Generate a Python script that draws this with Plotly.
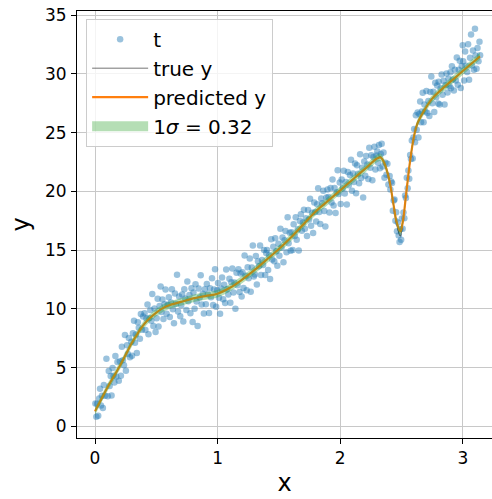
import plotly.graph_objects as go

# ---- observed samples t(x), grouped in x-bins of width 0.1 ----
x_obs = [
    0.003, 0.011, 0.017, 0.026, 0.034, 0.041, 0.049, 0.056, 0.064, 0.072, 0.081, 0.093,
    0.104, 0.112, 0.119, 0.128, 0.135, 0.143, 0.151, 0.158, 0.166, 0.174, 0.183, 0.194,
    0.203, 0.211, 0.219, 0.227, 0.236, 0.244, 0.252, 0.261, 0.268, 0.276, 0.285, 0.296,
    0.302, 0.309, 0.318, 0.326, 0.333, 0.341, 0.349, 0.357, 0.366, 0.374, 0.383, 0.392,
    0.404, 0.411, 0.419, 0.428, 0.436, 0.443, 0.451, 0.459, 0.467, 0.476, 0.485, 0.494,
    0.503, 0.511, 0.518, 0.527, 0.535, 0.542, 0.550, 0.558, 0.567, 0.575, 0.584, 0.593,
    0.602, 0.610, 0.619, 0.627, 0.635, 0.644, 0.652, 0.660, 0.669, 0.677, 0.686, 0.695,
    0.703, 0.711, 0.720, 0.728, 0.736, 0.745, 0.753, 0.761, 0.770, 0.778, 0.787, 0.796,
    0.803, 0.812, 0.820, 0.828, 0.837, 0.845, 0.854, 0.862, 0.870, 0.879, 0.888, 0.896,
    0.904, 0.912, 0.921, 0.930, 0.938, 0.946, 0.954, 0.963, 0.971, 0.979, 0.988, 0.996,
    1.003, 1.011, 1.020, 1.028, 1.036, 1.045, 1.053, 1.061, 1.070, 1.078, 1.087, 1.096,
    1.104, 1.112, 1.120, 1.129, 1.137, 1.145, 1.154, 1.162, 1.170, 1.179, 1.187, 1.196,
    1.203, 1.211, 1.220, 1.228, 1.237, 1.245, 1.253, 1.262, 1.270, 1.279, 1.287, 1.295,
    1.304, 1.312, 1.320, 1.329, 1.337, 1.346, 1.354, 1.362, 1.371, 1.379, 1.388, 1.396,
    1.403, 1.412, 1.420, 1.428, 1.437, 1.445, 1.454, 1.462, 1.470, 1.479, 1.487, 1.496,
    1.504, 1.512, 1.521, 1.529, 1.537, 1.546, 1.554, 1.562, 1.571, 1.579, 1.588, 1.596,
    1.603, 1.612, 1.620, 1.629, 1.637, 1.645, 1.654, 1.662, 1.671, 1.679, 1.687, 1.696,
    1.704, 1.712, 1.720, 1.729, 1.738, 1.746, 1.754, 1.762, 1.771, 1.779, 1.788, 1.796,
    1.804, 1.812, 1.820, 1.829, 1.837, 1.845, 1.854, 1.862, 1.870, 1.879, 1.887, 1.896,
    1.904, 1.912, 1.921, 1.929, 1.937, 1.946, 1.954, 1.962, 1.971, 1.979, 1.987, 1.996,
    2.004, 2.012, 2.020, 2.029, 2.037, 2.046, 2.054, 2.062, 2.070, 2.079, 2.088, 2.096,
    2.104, 2.112, 2.121, 2.129, 2.137, 2.146, 2.154, 2.162, 2.171, 2.179, 2.187, 2.196,
    2.204, 2.212, 2.221, 2.229, 2.237, 2.246, 2.254, 2.262, 2.271, 2.279, 2.287, 2.296,
    2.302, 2.309, 2.316, 2.324, 2.331, 2.338, 2.346, 2.353, 2.361, 2.369, 2.377, 2.385, 2.393,
    2.403, 2.409, 2.416, 2.423, 2.429, 2.436, 2.443, 2.450, 2.456, 2.463, 2.470, 2.477, 2.484, 2.491, 2.497,
    2.503, 2.509, 2.516, 2.523, 2.529, 2.536, 2.543, 2.550, 2.556, 2.563, 2.570, 2.577, 2.584, 2.591, 2.597,
    2.603, 2.610, 2.617, 2.624, 2.631, 2.638, 2.645, 2.652, 2.659, 2.666, 2.673, 2.680, 2.687, 2.694,
    2.703, 2.711, 2.719, 2.727, 2.735, 2.743, 2.751, 2.759, 2.767, 2.775, 2.783, 2.791, 2.799,
    2.803, 2.811, 2.819, 2.827, 2.835, 2.843, 2.851, 2.859, 2.867, 2.875, 2.883, 2.891, 2.899,
    2.903, 2.911, 2.919, 2.927, 2.935, 2.943, 2.951, 2.959, 2.967, 2.975, 2.983, 2.991, 2.999,
    3.003, 3.011, 3.019, 3.027, 3.035, 3.043, 3.051, 3.059, 3.067, 3.075, 3.083, 3.091, 3.099,
    3.104, 3.112, 3.120, 3.128, 3.136, 3.141,
]
t_obs = [
    1.96, 0.82, 1.94, 0.92, 2.38, 3.22, 1.78, 2.62, 1.58, 3.54, 2.62, 5.76,
    2.57, 4.72, 3.44, 4.30, 2.63, 4.97, 4.32, 3.74, 5.99, 4.23, 5.49, 3.89,
    5.56, 4.32, 6.78, 5.64, 5.22, 7.78, 4.74, 6.92, 6.16, 7.52, 5.90, 7.22,
    6.03, 7.94, 8.99, 7.12, 7.83, 6.26, 8.88, 8.41, 7.46, 9.58, 8.23, 9.37,
    9.64, 8.21, 9.19, 10.38, 7.86, 9.23, 9.91, 8.99, 11.27, 8.56, 10.05, 8.04,
    9.22, 10.87, 8.51, 10.26, 11.91, 9.75, 10.80, 9.15, 10.40, 11.65, 9.60, 10.36,
    11.00, 9.32, 10.55, 11.67, 9.97, 8.79, 11.32, 10.45, 12.92, 9.78, 11.06, 9.38,
    10.31, 11.23, 8.94, 11.68, 10.89, 9.91, 12.33, 10.66, 11.20, 9.63, 11.76, 8.90,
    11.40, 10.01, 12.11, 10.63, 8.55, 11.75, 10.97, 12.88, 10.39, 11.30, 9.61, 11.68,
    10.41, 12.12, 11.24, 9.65, 11.77, 10.99, 12.62, 10.34, 11.66, 13.38, 10.20, 11.59,
    12.22, 10.96, 9.60, 11.74, 12.68, 10.83, 12.07, 10.51, 13.35, 11.69, 11.24, 12.58,
    10.53, 12.28, 13.44, 11.40, 12.26, 10.02, 13.08, 12.03, 13.39, 11.45, 13.01, 11.07,
    13.12, 11.79, 14.56, 12.82, 11.60, 13.56, 12.62, 14.30, 11.46, 13.53, 15.40, 12.76,
    12.94, 14.51, 12.08, 14.06, 13.63, 15.41, 12.89, 14.16, 13.74, 15.01, 12.89, 14.76,
    15.03, 13.31, 14.58, 12.55, 15.93, 14.21, 15.29, 14.06, 16.03, 14.91, 13.68, 15.56,
    14.54, 16.82, 15.21, 16.09, 13.97, 15.86, 16.64, 14.82, 17.81, 15.59, 16.48, 14.96,
    16.53, 15.03, 17.22, 16.22, 17.81, 15.90, 16.79, 14.98, 17.48, 18.07, 16.66, 17.36,
    18.44, 16.83, 17.72, 16.22, 18.42, 17.61, 19.39, 17.08, 18.18, 16.47, 19.07, 18.26,
    17.44, 18.91, 20.28, 18.26, 17.23, 19.41, 18.99, 20.06, 18.33, 17.01, 19.48, 20.16,
    19.54, 18.21, 20.29, 19.06, 21.03, 18.81, 20.29, 18.16, 19.94, 21.81, 19.78, 20.76,
    18.94, 21.01, 20.28, 21.76, 19.83, 20.81, 18.89, 21.66, 20.53, 21.41, 22.69, 20.06,
    21.54, 20.81, 22.39, 19.86, 22.23, 21.51, 20.69, 23.16, 21.14, 22.01, 19.48, 22.56,
    21.34, 23.01, 22.29, 21.06, 23.73, 22.01, 23.09, 20.96, 22.94, 23.81, 21.88, 23.06,
    23.41, 22.44, 23.96, 21.98, 23.20, 24.07, 22.13, 23.32, 21.17, 22.45, 21.43, 22.35, 20.60,
    21.32, 20.16, 20.84, 20.72, 18.36, 19.24, 19.32, 17.50, 18.24, 16.62, 17.35, 16.25, 15.70, 16.80, 15.90,
    17.70, 16.82, 18.22, 17.72, 19.65, 19.45, 21.16, 20.27, 21.79, 21.09, 23.10, 22.77, 24.33, 22.80, 24.60,
    25.32, 24.20, 26.48, 25.26, 26.72, 24.60, 26.60, 27.66, 25.90, 26.80, 28.40, 25.90, 27.40, 26.80,
    28.55, 26.68, 27.70, 26.43, 28.46, 29.79, 27.51, 28.49, 26.77, 29.25, 28.03, 29.01, 27.49,
    29.33, 27.41, 28.78, 29.96, 28.24, 29.42, 27.40, 29.07, 30.05, 28.42, 29.60, 28.97, 30.15,
    28.78, 30.65, 29.52, 28.59, 30.37, 29.44, 31.41, 29.08, 30.35, 31.13, 28.80, 30.67, 32.44,
    31.08, 29.45, 31.92, 30.69, 30.17, 32.54, 29.51, 31.38, 33.35, 30.73, 32.00, 30.37, 33.84,
    31.58, 30.45, 32.22, 31.08, 32.75, 31.60,
]

# ---- underlying function and model prediction ----
x_curve = [0.0, 0.05, 0.1, 0.15, 0.2, 0.25, 0.3, 0.35, 0.4, 0.45, 0.5, 0.55, 0.6, 0.7,
           0.8, 0.9, 1.0, 1.1, 1.2, 1.3, 1.4, 1.5, 1.6, 1.7, 1.8, 1.9, 2.0, 2.1, 2.2,
           2.3, 2.33, 2.36, 2.4, 2.43, 2.46, 2.49, 2.51, 2.54, 2.57, 2.6, 2.63, 2.68,
           2.75, 2.85, 2.95, 3.05, 3.14]
y_true = [1.3, 2.3, 3.3, 4.2, 5.1, 6.1, 7.1, 7.95, 8.7, 9.25, 9.7, 10.05, 10.3, 10.6,
          10.9, 11.1, 11.3, 11.8, 12.5, 13.3, 14.2, 15.1, 16.1, 17.2, 18.3, 19.2, 20.1,
          21.0, 21.9, 22.8, 22.95, 22.4, 21.0, 19.1, 17.2, 16.2, 17.3, 20.0, 22.6, 24.6,
          25.8, 26.8, 27.9, 28.9, 29.8, 30.7, 31.5]
y_pred = [1.3, 2.3, 3.3, 4.2, 5.1, 6.1, 7.1, 7.95, 8.7, 9.25, 9.7, 10.05, 10.3, 10.6,
          10.9, 11.1, 11.3, 11.8, 12.5, 13.3, 14.2, 15.1, 16.1, 17.2, 18.3, 19.2, 20.1,
          21.0, 21.9, 22.8, 22.9, 22.4, 21.0, 19.2, 17.4, 16.6, 17.4, 20.0, 22.6, 24.6,
          25.8, 26.8, 27.9, 28.9, 29.8, 30.7, 31.5]
sigma = 0.32

band_lo = [v - sigma for v in y_pred]
band_hi = [v + sigma for v in y_pred]

FONT = "DejaVu Sans"
BAND = "rgba(44,160,44,0.35)"

fig = go.Figure()
fig.add_trace(go.Scatter(
    x=x_obs, y=t_obs, mode="markers", name="t", legendgroup="a",
    marker=dict(color="#1f77b4", size=6.5, opacity=0.45, line=dict(width=0)),
))
fig.add_trace(go.Scatter(
    x=x_curve, y=y_true, mode="lines", name="true y", legendgroup="b",
    line=dict(color="rgba(0,0,0,0.55)", width=1, shape="spline"),
))
fig.add_trace(go.Scatter(
    x=x_curve, y=y_pred, mode="lines", name="predicted y", legendgroup="c",
    line=dict(color="#ff7f0e", width=2.2, shape="spline"),
))
fig.add_trace(go.Scatter(
    x=x_curve, y=band_lo, mode="lines", showlegend=False, legendgroup="d",
    line=dict(width=0, shape="spline"), hoverinfo="skip",
))
fig.add_trace(go.Scatter(
    x=x_curve, y=band_hi, mode="lines", showlegend=False, legendgroup="d",
    fill="tonexty", fillcolor=BAND,
    line=dict(width=0, shape="spline"), hoverinfo="skip",
))
# legend swatch for the ±1σ band
fig.add_trace(go.Scatter(
    x=[None], y=[None], mode="lines", name="1<i>σ</i> = 0.32", legendgroup="d",
    line=dict(color=BAND, width=14),
))

axis_common = dict(
    showgrid=True, gridcolor="#c8c8c8", gridwidth=1,
    zeroline=False, showline=True, linecolor="black", linewidth=1,
    ticks="outside", ticklen=5, tickwidth=1, tickcolor="black",
    tickfont=dict(family=FONT, size=17, color="black"),
)

fig.update_layout(
    width=492, height=499,
    margin=dict(l=77, r=0, t=11, b=61),
    plot_bgcolor="white", paper_bgcolor="white",
    font=dict(family=FONT, color="black"),
    xaxis=dict(range=[-0.147, 3.238], tickvals=[0, 1, 2, 3], mirror=True,
               title=dict(text="x", font=dict(family=FONT, size=24), standoff=6),
               **axis_common),
    yaxis=dict(range=[-0.98, 35.36], tickvals=[0, 5, 10, 15, 20, 25, 30, 35],
               ticklabelstandoff=1,
               title=dict(text="y", font=dict(family=FONT, size=24), standoff=8),
               **axis_common),
    legend=dict(
        x=0.022, y=0.982, xanchor="left", yanchor="top",
        bgcolor="rgba(255,255,255,0.8)", bordercolor="#cccccc", borderwidth=1,
        font=dict(family=FONT, size=20, color="black"),
        tracegroupgap=0, itemwidth=56,
    ),
)

fig.write_html("out.html")
